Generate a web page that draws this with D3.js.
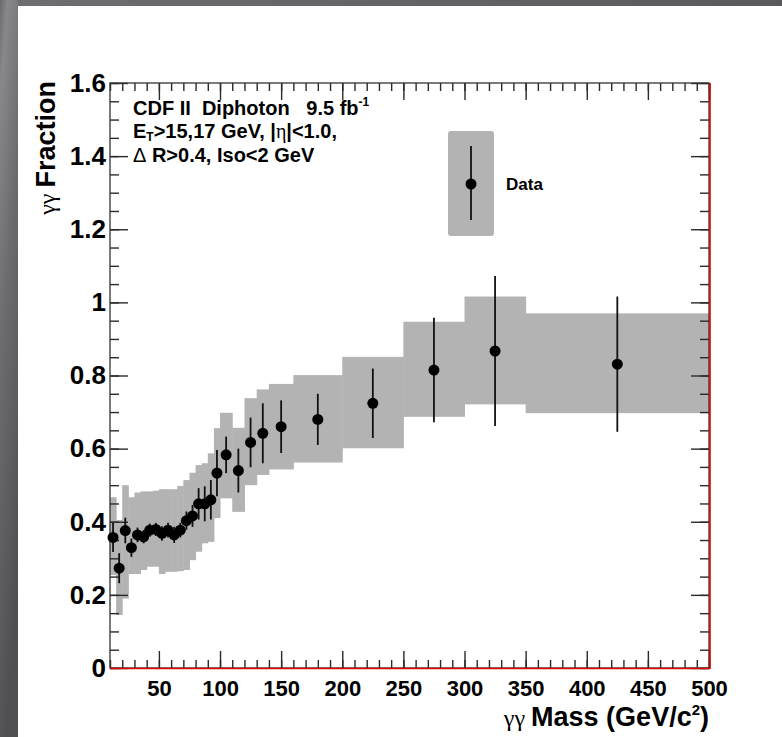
<!DOCTYPE html>
<html>
<head>
<meta charset="utf-8">
<script src="https://cdn.jsdelivr.net/npm/d3@7"></script>
<style>
	body { margin: 0; background: #fff; }
	svg text { font-family: "Liberation Sans", Arial, sans-serif; }
	.greek { font-family: "Liberation Serif", "DejaVu Serif", serif; font-weight: normal; }
</style>
</head>
<body>
<div class="chart-container"></div>
<script>
// bin edges of the mass bins (GeV/c^2)
const binEdges = [10, 15, 20, 25, 30, 35, 40, 45, 50, 55, 60, 65, 70, 75, 80, 85, 90, 95, 100,
	110, 120, 130, 140, 160, 200, 250, 300, 350, 500];
const massCenters = [12.5, 17.5, 22.5, 27.5, 32.5, 37.5, 42.5, 47.5, 52.5, 57.5, 62.5, 67.5, 72.5, 77.5,
	82.5, 87.5, 92.5, 97.5, 105, 115, 125, 135, 150, 180, 225, 275, 325, 425];
const fraction = [0.357, 0.273, 0.376, 0.329, 0.364, 0.359, 0.377, 0.379, 0.368, 0.377, 0.364, 0.377, 0.403, 0.416,
	0.449, 0.449, 0.460, 0.533, 0.583, 0.540, 0.617, 0.642, 0.660, 0.680, 0.724, 0.815, 0.867, 0.831];
const statErr = [0.040, 0.041, 0.035, 0.025, 0.020, 0.018, 0.018, 0.018, 0.020, 0.020, 0.022, 0.020, 0.025, 0.030,
	0.043, 0.048, 0.054, 0.063, 0.050, 0.060, 0.068, 0.082, 0.072, 0.070, 0.095, 0.143, 0.205, 0.185];
// systematic band per bin
const bandLow = [0.254, 0.145, 0.190, 0.257, 0.257, 0.268, 0.277, 0.277, 0.257, 0.263, 0.263, 0.265, 0.268, 0.295,
	0.318, 0.341, 0.345, 0.410, 0.464, 0.427, 0.500, 0.528, 0.543, 0.562, 0.601, 0.687, 0.721, 0.697];
const bandHigh = [0.467, 0.405, 0.500, 0.467, 0.480, 0.483, 0.483, 0.485, 0.489, 0.489, 0.489, 0.498, 0.514, 0.534,
	0.555, 0.560, 0.587, 0.656, 0.698, 0.657, 0.738, 0.762, 0.777, 0.801, 0.851, 0.947, 1.016, 0.970];

const xMajor = [50, 100, 150, 200, 250, 300, 350, 400, 450, 500];
const xMinor = d3.range(10, 501, 10);
const yMajor = [0, 0.2, 0.4, 0.6, 0.8, 1, 1.2, 1.4, 1.6];
const yMinor = d3.range(0, 1.6001, 0.05);

const w = 782;
const h = 737;
const margin = { top: 83, left: 110, right: 73, bottom: 69 };
const width = w - margin.left - margin.right;
const height = h - margin.top - margin.bottom;

const svg = d3.select(".chart-container")
				.append("svg")
				.attr("width", w)
				.attr("height", h);

// dark frame round the picture
const defs = svg.append("defs");
const gLeft = defs.append("linearGradient").attr("id", "leftGrad")
				.attr("x1", 0).attr("y1", 0).attr("x2", 0.3).attr("y2", 1);
gLeft.append("stop").attr("offset", "0%").attr("stop-color", "#6a6a6e");
gLeft.append("stop").attr("offset", "12%").attr("stop-color", "#88888c");
gLeft.append("stop").attr("offset", "45%").attr("stop-color", "#6c6c70");
gLeft.append("stop").attr("offset", "100%").attr("stop-color", "#505054");
const gTop = defs.append("linearGradient").attr("id", "topGrad")
				.attr("x1", 0).attr("y1", 0).attr("x2", 1).attr("y2", 0);
gTop.append("stop").attr("offset", "0%").attr("stop-color", "#6e6e72");
gTop.append("stop").attr("offset", "100%").attr("stop-color", "#5a5a5e");

svg.append("rect").attr("x", 0).attr("y", 0).attr("width", w).attr("height", 6).attr("fill", "url(#topGrad)");
svg.append("rect").attr("x", 0).attr("y", 0).attr("width", 18).attr("height", h).attr("fill", "url(#leftGrad)");

const x = d3.scaleLinear().domain([10, 500]).range([0, width]);
const y = d3.scaleLinear().domain([0, 1.6]).range([height, 0]);

const g = svg.append("g")
			.attr("transform", `translate(${margin.left},${margin.top})`);

const bins = massCenters.map((m, i) => ({
	lo: binEdges[i], hi: binEdges[i + 1], m: m, v: fraction[i], e: statErr[i],
	bLo: bandLow[i], bHi: bandHigh[i]
}));

g.append("g")
	.attr("class", "bands")
	.selectAll("rect")
	.data(bins)
	.enter()
		.append("rect")
		.attr("x", d => x(d.lo))
		.attr("width", d => x(d.hi) - x(d.lo) + 0.5)
		.attr("y", d => y(d.bHi))
		.attr("height", d => y(d.bLo) - y(d.bHi))
		.attr("fill", "#b3b3b3");

// ticks, all pointing inside the frame
function tickStyle(sel) {
	sel.select(".domain").remove();
	sel.selectAll(".tick line").attr("stroke", "#2a2a2a").attr("stroke-width", 1.4);
}

g.append("g").call(d3.axisLeft(y).tickValues(yMinor).tickSize(-9).tickFormat("")).call(tickStyle);
g.append("g").call(d3.axisLeft(y).tickValues(yMajor).tickSize(-18).tickPadding(4)
		.tickFormat(d => String(+d.toFixed(1))))
	.call(tickStyle)
	.selectAll("text")
		.attr("fill", "#000")
		.style("font-size", "26px")
		.style("font-weight", "bold");

g.append("g").attr("transform", `translate(${width},0)`)
	.call(d3.axisRight(y).tickValues(yMinor).tickSize(-9).tickFormat("")).call(tickStyle);
g.append("g").attr("transform", `translate(${width},0)`)
	.call(d3.axisRight(y).tickValues(yMajor).tickSize(-18).tickFormat("")).call(tickStyle);

g.append("g").attr("transform", `translate(0,${height})`)
	.call(d3.axisBottom(x).tickValues(xMinor).tickSize(-8).tickFormat("")).call(tickStyle);
g.append("g").attr("transform", `translate(0,${height})`)
	.call(d3.axisBottom(x).tickValues(xMajor).tickSize(-17).tickPadding(12).tickFormat(d3.format("d")))
	.call(tickStyle)
	.selectAll("text")
		.attr("fill", "#000")
		.style("font-size", "22px")
		.style("font-weight", "bold");

g.append("g").call(d3.axisTop(x).tickValues(xMinor).tickSize(-8).tickFormat("")).call(tickStyle);
g.append("g").call(d3.axisTop(x).tickValues(xMajor).tickSize(-17).tickFormat("")).call(tickStyle);

// frame
g.append("rect")
	.attr("width", width)
	.attr("height", height)
	.attr("fill", "none")
	.attr("stroke", "#333")
	.attr("stroke-width", 1.3);
g.append("line").attr("x1", 0).attr("x2", width + 1).attr("y1", height + 0.5).attr("y2", height + 0.5)
	.attr("stroke", "#e00000").attr("stroke-width", 1.6);
g.append("line").attr("x1", width + 1).attr("x2", width + 1).attr("y1", 0).attr("y2", height + 1)
	.attr("stroke", "#e00000").attr("stroke-width", 1.6);

// data with stat errors
const pts = g.append("g").attr("class", "points");
pts.selectAll("line")
	.data(bins)
	.enter()
		.append("line")
		.attr("x1", d => x(d.m))
		.attr("x2", d => x(d.m))
		.attr("y1", d => y(d.v + d.e))
		.attr("y2", d => y(d.v - d.e))
		.attr("stroke", "#111")
		.attr("stroke-width", 1.8);
pts.selectAll("circle")
	.data(bins)
	.enter()
		.append("circle")
		.attr("cx", d => x(d.m))
		.attr("cy", d => y(d.v))
		.attr("r", 5.5)
		.attr("fill", "#000");

// header text
const hdr = g.append("g").attr("transform", "translate(23,0)")
				.style("font-size", "20px")
				.style("font-weight", "bold");
const l1 = hdr.append("text").attr("y", 32);
l1.append("tspan").text("CDF II  Diphoton   9.5 fb").attr("xml:space", "preserve");
l1.append("tspan").text("-1").attr("dy", -9).style("font-size", "12px");
const l2 = hdr.append("text").attr("y", 55);
l2.append("tspan").text("E");
l2.append("tspan").text("T").attr("dy", 3).style("font-size", "12px");
l2.append("tspan").text(">15,17 GeV, |").attr("dy", -3);
l2.append("tspan").text("η").attr("class", "greek");
l2.append("tspan").text("|<1.0,");
const l3 = hdr.append("text").attr("y", 79);
l3.append("tspan").text("Δ").style("font-weight", "normal");
l3.append("tspan").text(" R>0.4, Iso<2 GeV");

// legend
const legend = svg.append("g").attr("class", "legend");
legend.append("rect")
	.attr("x", 448).attr("y", 131).attr("width", 46).attr("height", 105)
	.attr("rx", 3).attr("fill", "#b3b3b3");
legend.append("line")
	.attr("x1", 471).attr("x2", 471).attr("y1", 146).attr("y2", 220)
	.attr("stroke", "#111").attr("stroke-width", 1.8);
legend.append("circle").attr("cx", 471).attr("cy", 184).attr("r", 5.5).attr("fill", "#000");
legend.append("text").attr("x", 506).attr("y", 190)
	.style("font-size", "17px").style("font-weight", "bold").text("Data");

// axis titles
const yt = svg.append("text")
			.attr("transform", `translate(55,${margin.top - 2}) rotate(-90)`)
			.attr("text-anchor", "end")
			.style("font-size", "27px")
			.style("font-weight", "bold");
yt.append("tspan").attr("class", "greek").style("font-size", "24px").text("γγ ");
yt.append("tspan").text("Fraction");

const xt = svg.append("text")
			.attr("x", margin.left + width)
			.attr("y", 726)
			.attr("text-anchor", "end")
			.style("font-size", "27px")
			.style("font-weight", "bold");
xt.append("tspan").attr("class", "greek").style("font-size", "24px").text("γγ ");
xt.append("tspan").text("Mass (GeV/c");
xt.append("tspan").text("2").attr("dy", -11).style("font-size", "15px");
xt.append("tspan").text(")").attr("dy", 11);
</script>
</body>
</html>
